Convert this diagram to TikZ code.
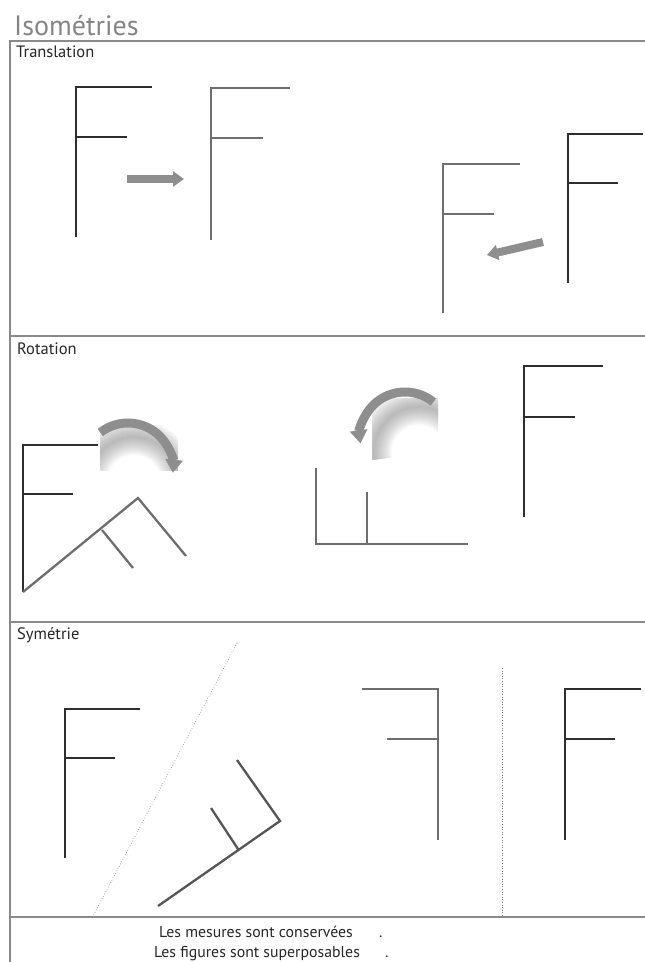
\documentclass[tikz,border=0pt]{standalone}
\usepackage{fontspec}
\setmainfont{PT Sans}
\usetikzlibrary{arrows.meta}
\definecolor{framegray}{HTML}{8A8A8A}
\definecolor{titlegray}{HTML}{858585}
\definecolor{darkF}{HTML}{2E2E2E}
\definecolor{lightF}{HTML}{6E6E6E}
\definecolor{midF}{HTML}{555555}
\definecolor{arrowgray}{HTML}{8E8E8E}
\definecolor{shadowgray}{HTML}{707070}
\begin{document}
\begin{tikzpicture}[x=1pt,y=-1pt,line cap=butt,line join=miter,
  fdark/.style={draw=darkF,line width=2.3pt},
  flight/.style={draw=lightF,line width=2.3pt},
  fmid/.style={draw=midF,line width=2.3pt},
  frameline/.style={draw=framegray,line width=1.2pt},
  bigarrow/.style={draw=arrowgray,line width=8pt,-{Triangle[width=15pt,length=11pt]}},
  curvearrow/.style={draw=arrowgray,line width=9pt,-{Triangle[width=17pt,length=13pt]}},
  axisline/.style={draw=gray,line width=0.6pt,dotted},
  lbl/.style={anchor=base west,inner sep=0pt,font=\fontsize{16.5}{18}\selectfont,text=black!85},
  msg/.style={anchor=base west,inner sep=0pt,font=\fontsize{15.8}{18}\selectfont,text=black!85}]
\useasboundingbox (0,0) rectangle (645,962);

% title and frame
\node[anchor=base west,inner sep=0pt,text=titlegray,font=\fontsize{28}{30}\selectfont] (title) at (14,35) {Isométries};
\draw[frameline] (10,962) -- (10,41) -- (645,41);
\draw[frameline] (10,336) -- (645,336);
\draw[frameline] (10,622) -- (645,622);
\draw[frameline] (10,917) -- (645,917);

\node[lbl] (ltrans) at (16,57) {Translation};
\node[lbl] (lrot) at (17,354) {Rotation};
\node[lbl] (lsym) at (17,639) {Symétrie};

% ---------------- Translation
\draw[fdark] (152,87) -- (76,87) -- (76,237) (76,137) -- (127,137);
\draw[flight] (290,88) -- (211,88) -- (211,240) (211,138) -- (263,138);
\coordinate (ta1) at (127,179);
\coordinate (tb1) at (184,179);
\draw[bigarrow] (ta1) -- (tb1);

\draw[flight] (520,164) -- (443,164) -- (443,313) (443,214) -- (494,214);
\draw[fdark] (643,134) -- (568,134) -- (568,283) (568,183) -- (618,183);
\coordinate (ta2) at (543,242);
\coordinate (tb2) at (487,255);
\draw[bigarrow] (ta2) -- (tb2);

% ---------------- Rotation
\draw[fdark] (98,445) -- (23,445) -- (23,592) (23,494) -- (73,494);
\draw[flight] (23,592) -- (138,498) -- (186,556) (102,530) -- (133,568);
\begin{scope}
  \clip (100,425) rectangle (178,470);
  \foreach \w in {2,4,...,36}{
    \draw[shadowgray,line width=\w pt,opacity=0.035] (134,482) ++(-160:45) arc[start angle=-160,end angle=0,radius=45];
  }
\end{scope}
\coordinate (rc1) at (128,468);
\draw[curvearrow] (rc1) ++(-128:45) arc[start angle=-128,end angle=6,radius=45];

\draw[flight] (316,468) -- (316,544) -- (468,544) (367,544) -- (367,492);
\draw[fdark] (603,366) -- (524,366) -- (524,517) (524,417) -- (575,417);
\begin{scope}
  \clip (372,398) rectangle (438,466);
  \foreach \w in {2,4,...,36}{
    \draw[shadowgray,line width=\w pt,opacity=0.035] (419,452) ++(-30:45) arc[start angle=-30,end angle=-190,radius=45];
  }
\end{scope}
\coordinate (rc2) at (405,437);
\draw[curvearrow] (rc2) ++(-51:45) arc[start angle=-51,end angle=-188,radius=45];

% ---------------- Symetrie
\draw[fdark] (140,709) -- (65,709) -- (65,858) (65,758) -- (115,758);
\coordinate (ax1) at (237,643);
\coordinate (ax2) at (93,916);
\draw[axisline] (ax1) -- (ax2);
\draw[fmid] (237,760) -- (280,821) -- (158,906) (238,849) -- (211,808);

\draw[flight] (362,689) -- (438,689) -- (438,840) (387,739) -- (438,739);
\coordinate (ax3) at (502,668);
\coordinate (ax4) at (502,917);
\draw[axisline] (ax3) -- (ax4);
\draw[fdark] (641,689) -- (565,689) -- (565,840) (565,739) -- (615,739);

% ---------------- conclusion
\node[msg] (m1) at (159,937) {Les mesures sont conservées};
\node[msg] (p1) at (379,937) {.};
\node[msg] (m2) at (154,957) {Les figures sont superposables};
\node[msg] (p2) at (385,957) {.};
\end{tikzpicture}
\end{document}
